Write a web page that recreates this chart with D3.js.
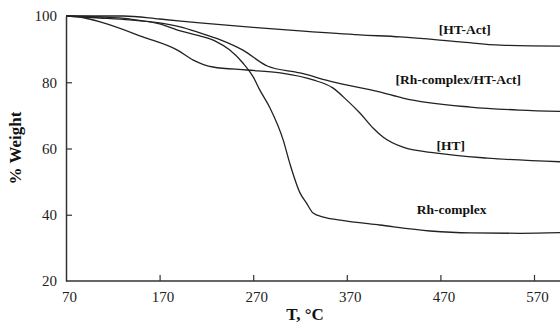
<!DOCTYPE html>
<html>
<head>
<meta charset="utf-8">
<script src="https://cdn.jsdelivr.net/npm/d3@7"></script>
<style>
  body { margin: 0; background: #fff; }
  svg { display: block; }
  .tick-label { font-family: "Liberation Serif", "DejaVu Serif", serif; font-size: 15px; fill: #222; }
  .axis-title { font-family: "Liberation Serif", serif; font-size: 17px; font-weight: bold; fill: #111; }
  .series-label { font-family: "Liberation Serif", serif; font-size: 13.5px; font-weight: bold; fill: #111; }
</style>
</head>
<body>
<div id="chart"></div>
<script>
// TGA curves, temperature (°C) vs % weight
const htActT = [70, 131, 170, 213, 277, 320, 384, 427, 491, 534, 598];
const htActW = [100, 100, 99.1, 97.9, 96.4, 95.5, 94.3, 93.7, 92.2, 91.2, 90.9];

const rhHtActT = [70, 106, 138, 170, 192, 213, 235, 259, 285, 320, 355, 405, 430, 502, 555, 598];
const rhHtActW = [100, 99.4, 98.8, 97.9, 96.7, 94.9, 92.8, 89.7, 84.9, 82.8, 80.1, 77.1, 75.2, 72.5, 71.6, 71.2];

const htT = [70, 85, 110, 152, 189, 206, 227, 263, 299, 334, 355, 370, 384, 398, 409, 430, 466, 520, 598];
const htW = [100, 99.7, 97.9, 93.7, 89.7, 86.7, 84.6, 83.7, 82.8, 80.7, 78.3, 74.6, 70.7, 66.2, 63.4, 60.4, 58.6, 57.1, 56.0];

const rhT = [70, 106, 138, 170, 192, 213, 229, 245, 259, 270, 277, 288, 302, 309, 320, 327, 334, 345, 363, 405, 459, 502, 555, 598];
const rhW = [100, 99.7, 99.1, 97.6, 95.5, 94.0, 92.5, 89.7, 85.8, 81.6, 77.7, 72.2, 62.6, 55.6, 46.6, 43.5, 40.5, 39.3, 38.4, 36.9, 35.1, 34.5, 34.4, 34.6];

const xTicks = [70, 170, 270, 370, 470, 570];
const yTicks = [20, 40, 60, 80, 100];

// label positions in data units [T, W]
const labels = [
  { text: "[HT-Act]", at: [496, 94.6] },
  { text: "[Rh-complex/HT-Act]", at: [489, 79.6] },
  { text: "[HT]", at: [481, 59.6] },
  { text: "Rh-complex", at: [482, 40.3] }
];

const width = 560, height = 324;
const svg = d3.select("#chart").append("svg")
  .attr("width", width).attr("height", height);

const x = d3.scaleLinear().domain([70, 570]).range([66, 534]);
const y = d3.scaleLinear().domain([20, 100]).range([281, 16]);

const line = d3.line()
  .x(d => x(d[0]))
  .y(d => y(d[1]))
  .curve(d3.curveMonotoneX);

const series = [
  d3.zip(htActT, htActW),
  d3.zip(rhHtActT, rhHtActW),
  d3.zip(htT, htW),
  d3.zip(rhT, rhW)
];

svg.append("g").selectAll("path")
  .data(series)
  .join("path")
  .attr("d", line)
  .attr("fill", "none")
  .attr("stroke", "#222")
  .attr("stroke-width", 1.3);

// axes: ticks point inward
const xAxis = d3.axisBottom(x).tickValues(xTicks).tickSizeInner(-6).tickSizeOuter(0).tickFormat(d3.format("d"));
const yAxis = d3.axisLeft(y).tickValues(yTicks).tickSizeInner(-6).tickSizeOuter(0).tickFormat(d3.format("d"));

const gx = svg.append("g").attr("transform", `translate(0,${y(20)})`).call(xAxis);
gx.select(".domain").attr("d", `M${x(70)},0H${width}`);
const gy = svg.append("g").attr("transform", `translate(${x(70)},0)`).call(yAxis);

[gx, gy].forEach(g => {
  g.attr("font-family", null).attr("font-size", null);
  g.select(".domain").attr("stroke", "#333").attr("stroke-width", 1.5);
  g.selectAll(".tick line").attr("stroke", "#333").attr("stroke-width", 1.2);
  g.selectAll(".tick text").attr("class", "tick-label").attr("fill", null);
});
gx.selectAll(".tick").filter(d => d === 70).select("line").remove();
gy.selectAll(".tick").filter(d => d === 20 || d === 100).select("line").remove();
gx.selectAll(".tick text").attr("y", 10).attr("dx", 3);
gy.selectAll(".tick text").attr("x", -9);

svg.append("text")
  .attr("class", "axis-title")
  .attr("x", 305).attr("y", 320)
  .attr("text-anchor", "middle")
  .text("T, °C");

svg.append("text")
  .attr("class", "axis-title")
  .attr("transform", "translate(21,148) rotate(-90)")
  .attr("text-anchor", "middle")
  .text("% Weight");

svg.append("g").selectAll("text")
  .data(labels)
  .join("text")
  .attr("class", "series-label")
  .attr("x", d => x(d.at[0]))
  .attr("y", d => y(d.at[1]))
  .attr("text-anchor", "middle")
  .text(d => d.text);
</script>
</body>
</html>
